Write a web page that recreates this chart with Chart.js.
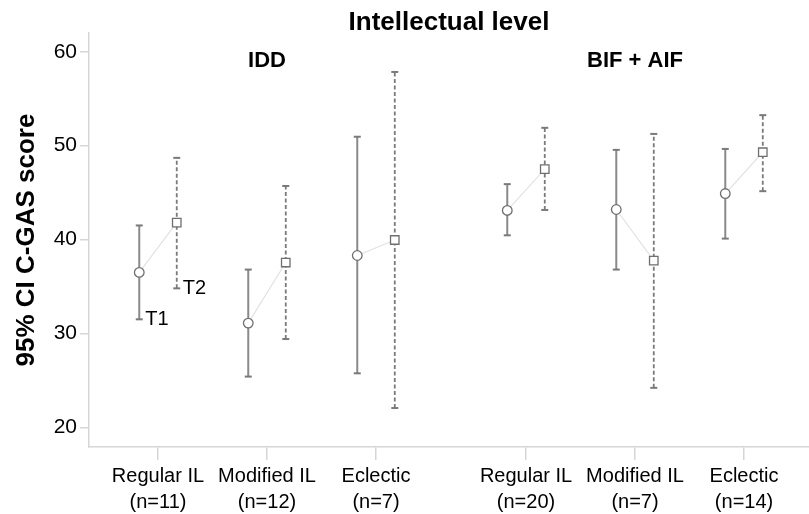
<!DOCTYPE html>
<html>
<head>
<meta charset="utf-8">
<script src="https://cdn.jsdelivr.net/npm/chart.js@4.4.0/dist/chart.umd.min.js"></script>
<style>
    body { margin: 0; background: #fff; }
    #chart-box { width: 809px; height: 514px; }
</style>
</head>
<body>
<div id="chart-box"><canvas id="ci-chart" width="809" height="514"></canvas></div>
<script>
// categories and group sizes, left panel (IDD) then right panel (BIF + AIF)
const categories = ['Regular IL', 'Modified IL', 'Eclectic', 'Regular IL', 'Modified IL', 'Eclectic'];
const sampleSizes = ['(n=11)', '(n=12)', '(n=7)', '(n=20)', '(n=7)', '(n=14)'];
const panelLabels = ['IDD', 'BIF + AIF'];
const timeLabels = ['T1', 'T2'];
const chartTitle = 'Intellectual level';

// mean and 95% CI, T1
const t1Mean = [36.5, 31.1, 38.3, 43.1, 43.2, 44.9];
const t1Lower = [31.5, 25.4, 25.75, 40.45, 36.8, 40.1];
const t1Upper = [41.5, 36.8, 50.95, 45.9, 49.55, 49.65];
// mean and 95% CI, T2
const t2Mean = [41.8, 37.55, 39.95, 47.5, 37.75, 49.3];
const t2Lower = [34.8, 29.4, 22.05, 43.15, 24.2, 45.15];
const t2Upper = [48.7, 45.7, 57.85, 51.9, 51.25, 53.25];

const yTicks = [20, 30, 40, 50, 60];

const FONT = "'Liberation Sans', Arial, Helvetica, sans-serif";
const panelGap = 0.376;   // extra space between the two panels
const timeShift = 0.172;  // T1 left of the tick, T2 right of it

function slotX(i) {
    return i + Math.floor(i / 3) * panelGap;
}

function whiskerData(lower, upper, shift) {
    let pts = [];
    for (let i = 0; i < lower.length; i++) {
        let x = slotX(i) + shift;
        pts.push({ x: x, y: lower[i] });
        pts.push({ x: x, y: upper[i] });
        pts.push({ x: x, y: null });
    }
    return pts;
}

function markerData(means, shift) {
    return means.map((m, i) => ({ x: slotX(i) + shift, y: m }));
}

function connectorData() {
    let pts = [];
    for (let i = 0; i < t1Mean.length; i++) {
        pts.push({ x: slotX(i) - timeShift, y: t1Mean[i] });
        pts.push({ x: slotX(i) + timeShift, y: t2Mean[i] });
        pts.push({ x: slotX(i), y: null });
    }
    return pts;
}

// title over the plot area, panel headings and T1/T2 labels
let textPlugin = {
    id: 'panelText',
    afterDraw: function (chart) {
        let ctx = chart.ctx;
        let xs = chart.scales.x;
        let ys = chart.scales.y;
        let area = chart.chartArea;
        ctx.save();
        ctx.fillStyle = '#000';
        ctx.textBaseline = 'middle';
        ctx.textAlign = 'center';
        ctx.font = 'bold 26px ' + FONT;
        ctx.fillText(chartTitle, (area.left + area.right) / 2, area.top - 10);
        ctx.font = 'bold 22px ' + FONT;
        for (let p = 0; p < panelLabels.length; p++) {
            let mid = (slotX(p * 3) + slotX(p * 3 + 2)) / 2;
            ctx.fillText(panelLabels[p], xs.getPixelForValue(mid), area.top + 28);
        }
        ctx.textAlign = 'left';
        ctx.font = '20px ' + FONT;
        ctx.fillText(timeLabels[0], xs.getPixelForValue(slotX(0) - timeShift) + 6, ys.getPixelForValue(t1Lower[0]));
        ctx.fillText(timeLabels[1], xs.getPixelForValue(slotX(0) + timeShift) + 6, ys.getPixelForValue(t2Lower[0]));
        ctx.restore();
    }
};

let config = {
    type: 'line',
    data: {
        datasets: [
            {
                label: 'T1 mean',
                data: markerData(t1Mean, -timeShift),
                showLine: false,
                pointStyle: 'circle',
                pointRadius: 4.8,
                pointBorderWidth: 1.3,
                pointBackgroundColor: '#fff',
                pointBorderColor: '#6f6f6f'
            },
            {
                label: 'T2 mean',
                data: markerData(t2Mean, timeShift),
                showLine: false,
                pointStyle: 'rect',
                pointRadius: 6,
                pointBorderWidth: 1.3,
                pointBackgroundColor: '#fff',
                pointBorderColor: '#6f6f6f'
            },
            {
                label: 'T1 CI',
                data: whiskerData(t1Lower, t1Upper, -timeShift),
                borderColor: '#8a8a8a',
                borderWidth: 2,
                spanGaps: false,
                pointStyle: 'line',
                pointRadius: 3.5,
                pointBorderWidth: 2,
                pointBorderColor: '#7a7a7a'
            },
            {
                label: 'T2 CI',
                data: whiskerData(t2Lower, t2Upper, timeShift),
                borderColor: '#7a7a7a',
                borderWidth: 1.8,
                borderDash: [4, 2.5],
                spanGaps: false,
                pointStyle: 'line',
                pointRadius: 3.5,
                pointBorderWidth: 2,
                pointBorderColor: '#7a7a7a'
            },
            {
                label: 'change',
                data: connectorData(),
                borderColor: '#e2e2e2',
                borderWidth: 1.2,
                spanGaps: false,
                pointRadius: 0
            }
        ]
    },
    options: {
        responsive: false,
        animation: false,
        layout: { padding: { top: 33, left: 0, right: 0, bottom: 0 }, autoPadding: false },
        plugins: {
            legend: { display: false },
            tooltip: { enabled: false },
            title: { display: false }
        },
        scales: {
            x: {
                type: 'linear',
                min: -0.633,
                max: 5.972,
                afterBuildTicks: function (scale) {
                    scale.ticks = categories.map((c, i) => ({ value: slotX(i) }));
                },
                afterFit: function (scale) {
                    scale.height = 67;
                    scale.paddingLeft = 0;
                    scale.paddingRight = 0;
                },
                ticks: {
                    autoSkip: false,
                    maxRotation: 0,
                    padding: 3,
                    color: '#000',
                    font: { family: FONT, size: 20, lineHeight: 1.3 },
                    callback: function (value, index) {
                        return [categories[index], sampleSizes[index]];
                    }
                },
                grid: {
                    drawOnChartArea: false,
                    tickLength: 13,
                    color: '#d6d6d6',
                    lineWidth: 1.5
                },
                border: { color: '#d6d6d6', width: 1.5 }
            },
            y: {
                type: 'linear',
                min: 17.9,
                max: 62,
                afterBuildTicks: function (scale) {
                    scale.ticks = yTicks.map(v => ({ value: v }));
                },
                afterFit: function (scale) {
                    scale.width = 89;
                    scale.paddingTop = 0;
                    scale.paddingBottom = 0;
                },
                ticks: {
                    padding: 3,
                    color: '#000',
                    font: { family: FONT, size: 21 }
                },
                grid: {
                    drawOnChartArea: false,
                    tickLength: 9,
                    color: '#d6d6d6',
                    lineWidth: 1.5
                },
                border: { color: '#d6d6d6', width: 1.5 },
                title: {
                    display: true,
                    text: '95% CI C-GAS score',
                    color: '#000',
                    font: { family: FONT, size: 26, weight: 'bold', lineHeight: 1.2 },
                    padding: { top: 11.4, bottom: 0 }
                }
            }
        }
    },
    plugins: [textPlugin]
};

let chart = new Chart(document.getElementById('ci-chart').getContext('2d'), config);
</script>
</body>
</html>
